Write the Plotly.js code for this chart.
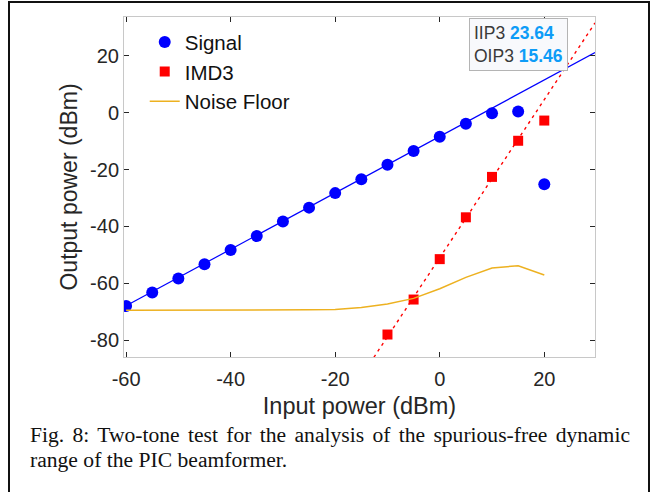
<!DOCTYPE html>
<html>
<head>
<meta charset="utf-8">
<script src="https://cdn.plot.ly/plotly-3.0.1.min.js"></script>
<style>
  html, body { margin:0; padding:0; background:#fff; }
  #wrap { position:relative; width:655px; height:492px; overflow:hidden; background:#fff; }
  #frame { position:absolute; left:8px; top:1px; width:638px; height:520px;
           border:2px solid #111; border-bottom:none; }
  #chart { position:absolute; left:0; top:0; width:655px; height:492px; }
  #caption { position:absolute; left:30px; top:423px; width:600px;
             font-family:"Liberation Serif","Times New Roman",serif; font-size:21.6px;
             line-height:25px; color:#111; text-align:justify; }
</style>
</head>
<body>
<div id="wrap">
  <div id="chart"></div>
  <div id="frame"></div>
  <div id="caption">Fig. 8: Two-tone test for the analysis of the spurious-free dynamic range of the PIC beamformer.</div>
</div>
<script>
// ---- data ----
const inputPower = [-60,-55,-50,-45,-40,-35,-30,-25,-20,-15,-10,-5,0,5,10,15,20];
const signalOut  = [-68.0,-63.2,-58.3,-53.3,-48.3,-43.4,-38.3,-33.4,-28.3,-23.4,-18.3,-13.5,-8.5,-3.9,-0.2,0.4,-25.2];
const noiseFloor = [-69.5,-69.5,-69.5,-69.5,-69.4,-69.4,-69.3,-69.3,-69.2,-68.5,-67.3,-65.3,-61.9,-57.9,-54.6,-53.8,-57.1];
const imdInput   = [-10,-5,0,5,10,15,20];
const imdOut     = [-78.0,-65.7,-51.5,-36.8,-22.6,-9.9,-2.8];
// fitted lines (end points as read)
const signalFitX = [-60, 29.7];
const signalFitY = [-67.9, 21.1];
const imdFitX    = [-12.6, 29.7];
const imdFitY    = [-86.0, 31.5];
const IIP3 = 23.64, OIP3 = 15.46;
const xTicks = [-60,-40,-20,0,20];
const yTicks = [-80,-60,-40,-20,0,20];

const traces = [
  {x: signalFitX, y: signalFitY, mode:'lines', line:{color:'#0000ff', width:1.2}, showlegend:false, hoverinfo:'skip'},
  {x: imdFitX, y: imdFitY, mode:'lines', line:{color:'#ff0000', width:1.4, dash:'3px,4px'}, showlegend:false, hoverinfo:'skip'},
  {x: inputPower, y: signalOut, mode:'markers', name:'Signal',
   marker:{symbol:'circle', size:12, color:'#0000ff'}},
  {x: imdInput, y: imdOut, mode:'markers', name:'IMD3',
   marker:{symbol:'square', size:10, color:'#ff0000'}},
  {x: inputPower, y: noiseFloor, mode:'lines', name:'Noise Floor',
   line:{color:'#EDB120', width:1.5}}
];

const FONT = '"Liberation Sans", Arial, sans-serif';
const axCommon = {
  showgrid:false, zeroline:false, showline:true, linecolor:'#c8c8c8', linewidth:1,
  mirror:'ticks', ticks:'inside', ticklen:5, tickcolor:'#262626', tickwidth:1,
  tickfont:{family:FONT, size:20, color:'#262626'}
};

const layout = {
  width:655, height:492,
  margin:{l:124, r:60.3, t:17.3, b:135.3},
  paper_bgcolor:'rgba(0,0,0,0)', plot_bgcolor:'#ffffff',
  xaxis: Object.assign({}, axCommon, {
    range:[-60.4, 29.7], tickvals:xTicks, ticktext:xTicks.map(String), ticklabelstandoff:4,
    title:{text:'Input power (dBm)', standoff:8, font:{family:FONT, size:23.5, color:'#262626'}}
  }),
  yaxis: Object.assign({}, axCommon, {
    range:[-85.9, 33.6], tickvals:yTicks, ticktext:yTicks.map(String),
    title:{text:'Output power (dBm)', standoff:6, font:{family:FONT, size:23, color:'#262626'}}
  }),
  legend:{x:0.044, y:0.985, xanchor:'left', yanchor:'top', bgcolor:'rgba(0,0,0,0)',
          font:{family:FONT, size:20.5, color:'#111'}},
  annotations:[{
    xref:'paper', yref:'paper', x:0.732, y:0.998, xanchor:'left', yanchor:'top',
    align:'left', showarrow:false,
    text:'IIP3 <b><span style="color:#0d9cf7">'+IIP3.toFixed(2)+'</span></b><br>OIP3 <b><span style="color:#0d9cf7">'+OIP3.toFixed(2)+'</span></b>',
    font:{family:FONT, size:17.5, color:'#3a3a3a'},
    bgcolor:'#f8f9fc', bordercolor:'#b4b4b4', borderwidth:1, borderpad:4
  }],
  showlegend:true
};

Plotly.newPlot('chart', traces, layout, {displayModeBar:false, staticPlot:true});
</script>
</body>
</html>
